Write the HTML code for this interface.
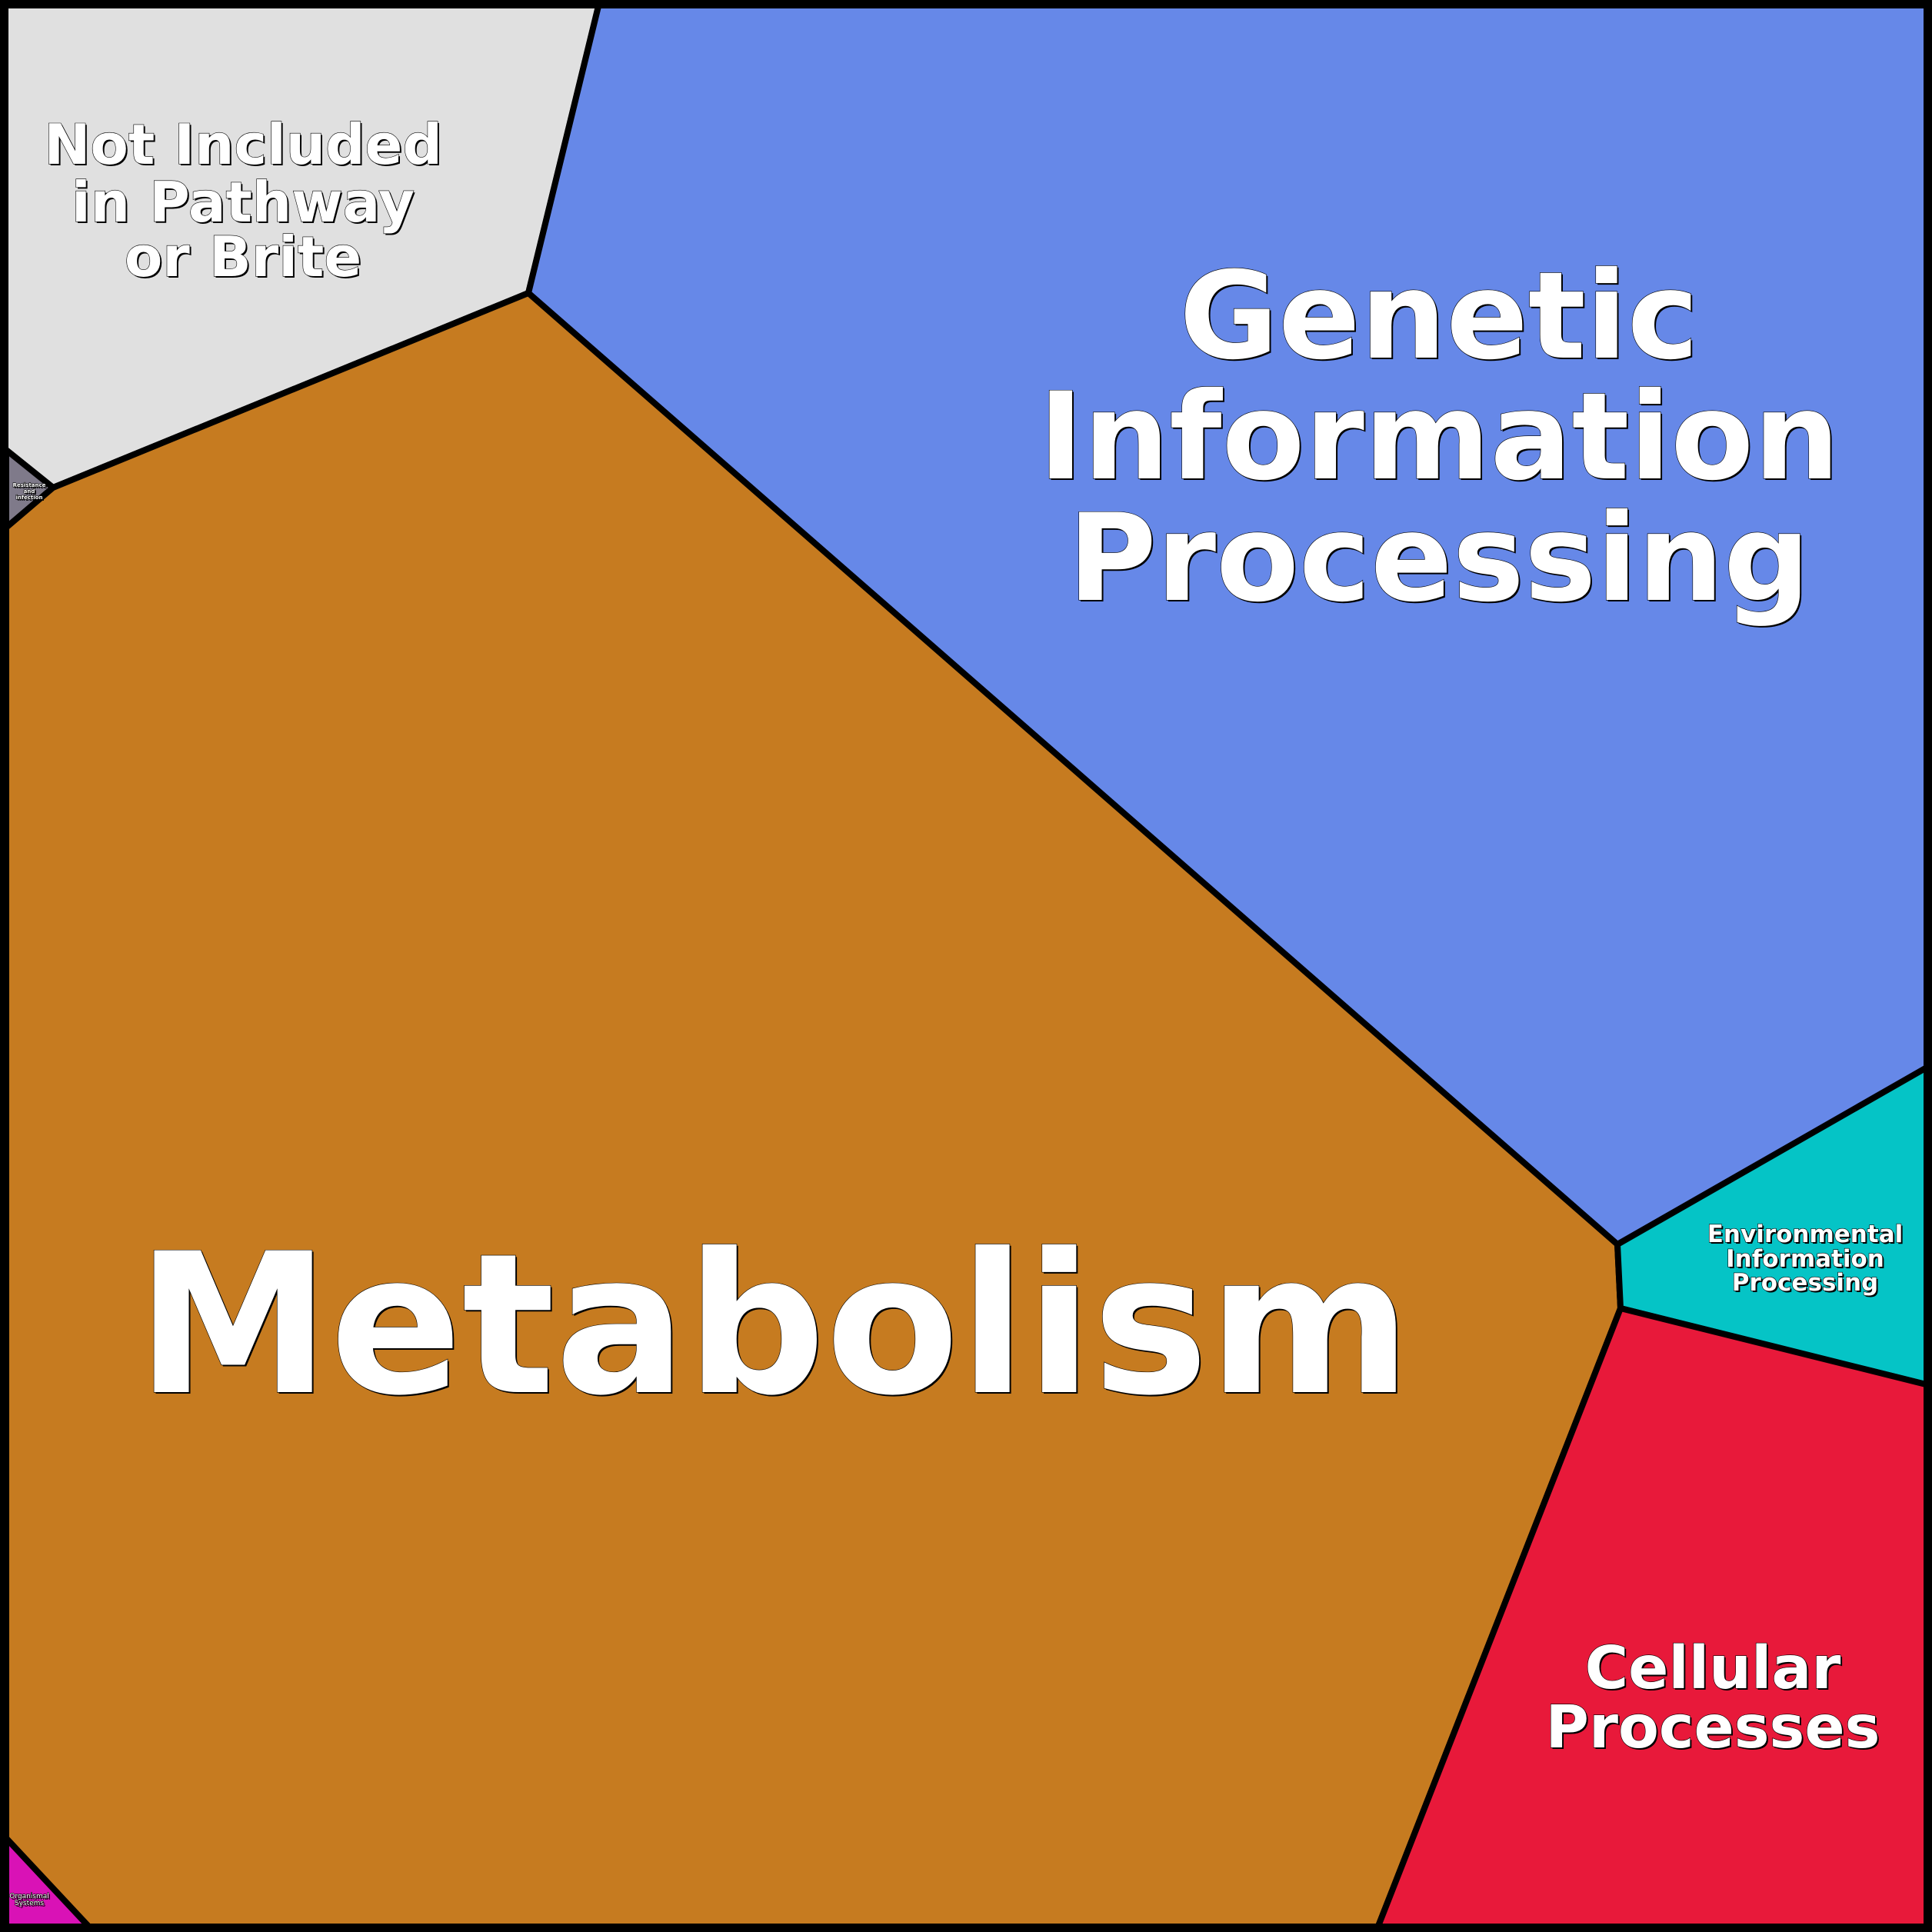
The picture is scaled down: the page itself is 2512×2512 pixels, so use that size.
<!DOCTYPE html>
<html><head><meta charset="utf-8"><style>html,body{margin:0;padding:0;background:#000}svg{display:block}</style></head>
<body>
<svg width="2512" height="2512" viewBox="0 0 2512 2512" xmlns="http://www.w3.org/2000/svg">
<defs>
<g id="labels" font-family="'DejaVu Sans','Liberation Sans',sans-serif" font-weight="bold" text-anchor="middle">
<text x="1006" y="1810" font-size="253">Metabolism</text>
<text font-size="157"><tspan x="1871" y="465">Genetic</tspan><tspan x="1871" y="622">Information</tspan><tspan x="1871" y="780">Processing</tspan></text>
<text font-size="72"><tspan x="316" y="213">Not Included</tspan><tspan x="316" y="288">in Pathway</tspan><tspan x="316" y="359">or Brite</tspan></text>
<text font-size="77"><tspan x="2227" y="2195">Cellular</tspan><tspan x="2227" y="2272">Processes</tspan></text>
<text font-size="31"><tspan x="2347" y="1615">Environmental</tspan><tspan x="2347" y="1647">Information</tspan><tspan x="2347" y="1678">Processing</tspan></text>
<text font-size="7"><tspan x="38" y="633">Resistance</tspan><tspan x="38" y="641">and</tspan><tspan x="38" y="649">infection</tspan></text>
<text font-size="9" font-weight="normal"><tspan x="38" y="2468">Organismal</tspan><tspan x="38" y="2477">Systems</tspan></text>
</g>
</defs>
<g stroke="#000" stroke-width="8" stroke-linejoin="round">
<polygon points="0,0 780,0 687,381 69,634 8,585 0,585" fill="#e0e0e0"/>
<polygon points="780,0 2512,0 2512,1389 2504,1389 2103,1618 687,381" fill="#6688e8"/>
<polygon points="8,585 69,634 8,686" fill="#7f7a8a"/>
<polygon points="687,381 2103,1618 2107,1701 1789,2512 122,2512 8,2390 8,686 69,634" fill="#c67b20"/>
<polygon points="2103,1618 2512,1384 2512,1802 2107,1701" fill="#05c4c6"/>
<polygon points="2107,1701 2512,1802 2512,2512 1789,2512" fill="#e8193a"/>
<polygon points="8,2390 122,2512 8,2512" fill="#d912b6"/>
</g>
<rect x="5" y="5" width="2502" height="2502" fill="none" stroke="#000" stroke-width="12"/>
<use href="#labels" x="2" y="2" fill="#000"/>
<use href="#labels" fill="#fff" stroke="#000" stroke-width="1.2" paint-order="stroke"/>
</svg>
</body></html>
